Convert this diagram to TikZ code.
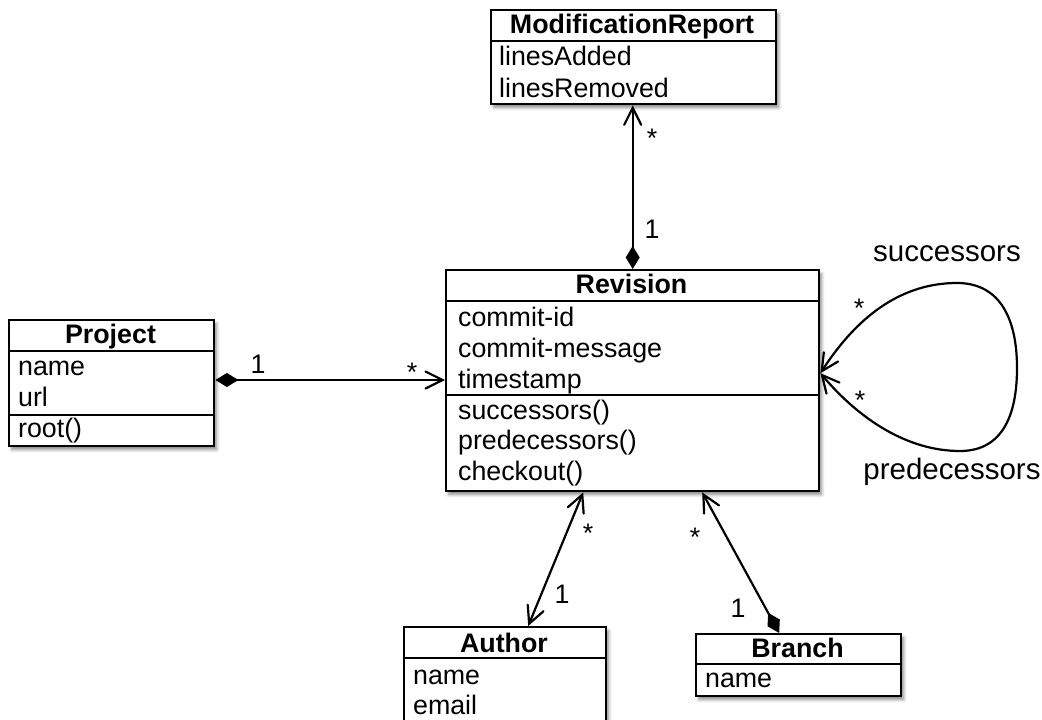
\documentclass[tikz,border=0pt]{standalone}
\usepackage{fontspec}
\setmainfont{Liberation Sans}
\usetikzlibrary{arrows.meta,shadows.blur}

\begin{document}
\begin{tikzpicture}[x=1pt,y=-1pt,
  font=\fontsize{26.8}{31}\selectfont,
  line width=2.2pt,
  barb/.tip={Straight Barb[length=17pt,width=17pt,line cap=round]},
  diam/.tip={Diamond[length=23pt,width=14pt]},
  classbox/.style={draw,fill=white,line width=2.4pt,inner sep=0pt,anchor=north west,
    blur shadow={shadow xshift=2.5pt,shadow yshift=-3.5pt,shadow blur radius=3pt,shadow opacity=45}},
  divider/.style={line width=2.4pt},
  classtitle/.style={font=\fontsize{26.8}{31}\selectfont\bfseries,anchor=base,inner sep=0pt},
  member/.style={anchor=base west,inner sep=0pt},
  mult/.style={anchor=base,inner sep=0pt},
  rolelabel/.style={font=\fontsize{29.5}{34}\selectfont,anchor=base,inner sep=0pt},
  assoc/.style={line width=2.2pt}
]
\useasboundingbox (0,0) rectangle (1042,720);

% ---- classes ----
\node[classbox,minimum width=285pt,minimum height=94pt] (mr) at (490,9) {};
\draw[divider] (mr.west |- 0,41) -- (mr.east |- 0,41);
\node[classtitle] (mrT) at (632,33) {ModificationReport};
\node[member] (mr1) at (498,65) {linesAdded};
\node[member] (mr2) at (498,97) {linesRemoved};

\node[classbox,minimum width=373pt,minimum height=221pt] (rev) at (445,269) {};
\draw[divider] (rev.west |- 0,301) -- (rev.east |- 0,301);
\draw[divider] (rev.west |- 0,395) -- (rev.east |- 0,395);
\node[classtitle] (revT) at (631.5,293) {Revision};
\node[member] (rev1) at (457,326) {commit-id};
\node[member] (rev2) at (457,357) {commit-message};
\node[member] (rev3) at (457,388) {timestamp};
\node[member] (rev4) at (457,419) {successors()};
\node[member] (rev5) at (457,449.5) {predecessors()};
\node[member] (rev6) at (457,480) {checkout()};

\node[classbox,minimum width=205pt,minimum height=126pt] (prj) at (8,319) {};
\draw[divider] (prj.west |- 0,351) -- (prj.east |- 0,351);
\draw[divider] (prj.west |- 0,415) -- (prj.east |- 0,415);
\node[classtitle] (prjT) at (110.5,343) {Project};
\node[member] (prj1) at (17,375) {name};
\node[member] (prj2) at (17,406) {url};
\node[member] (prj3) at (17,437) {root()};

\node[classbox,minimum width=202pt,minimum height=110pt] (auth) at (403,626) {};
\draw[divider] (auth.west |- 0,658) -- (auth.east |- 0,658);
\node[classtitle] (authT) at (504,652) {Author};
\node[member] (auth1) at (412,684) {name};
\node[member] (auth2) at (412,714) {email};

\node[classbox,minimum width=205pt,minimum height=62pt] (br) at (695,633) {};
\draw[divider] (br.west |- 0,664) -- (br.east |- 0,664);
\node[classtitle] (brT) at (797.5,657) {Branch};
\node[member] (br1) at (704,687) {name};

% ---- associations ----
\draw[assoc,{diam}-{barb}] (rev.north) -- (rev.north |- mr.south);
\node[mult] (mrStar) at (652,147) {*};
\node[mult] (mrOne) at (652,238) {1};

\draw[assoc,{diam}-{barb}] (prj.east |- 0,380) -- (rev.west |- 0,380);
\node[mult] (prjOne) at (258,373) {1};
\node[mult] (prjStar) at (412,381) {*};

\coordinate (authEnd) at ([xshift=23pt]auth.north);
\coordinate (revA) at ([xshift=-49.5pt]rev.south);
\draw[assoc,{barb}-{barb}] (authEnd) -- (revA);
\node[mult] (authStar) at (588,542) {*};
\node[mult] (authOne) at (562,603) {1};

\coordinate (brEnd) at ([xshift=-19.5pt]br.north);
\coordinate (revB) at ([xshift=69.5pt]rev.south);
\draw[assoc,{diam}-{barb}] (brEnd) -- (revB);
\node[mult] (brStar) at (695,546) {*};
\node[mult] (brOne) at (738,617) {1};

% ---- self association ----
\coordinate (loopEnd) at ([yshift=7.5pt]rev.east);
\draw[assoc,{barb}-{barb}] (loopEnd)
  .. controls (860,312) and (905,283) .. (957,283)
  .. controls (1002,283) and (1017,322) .. (1017,368)
  .. controls (1017,416) and (1002,451) .. (960,451)
  .. controls (908,451) and (860,420) .. (loopEnd);
\node[mult] (succStar) at (859,317) {*};
\node[mult] (predStar) at (860,409) {*};
\node[rolelabel] (succ) at (947,261) {successors};
\node[rolelabel] (pred) at (952,479) {predecessors};
\end{tikzpicture}
\end{document}
